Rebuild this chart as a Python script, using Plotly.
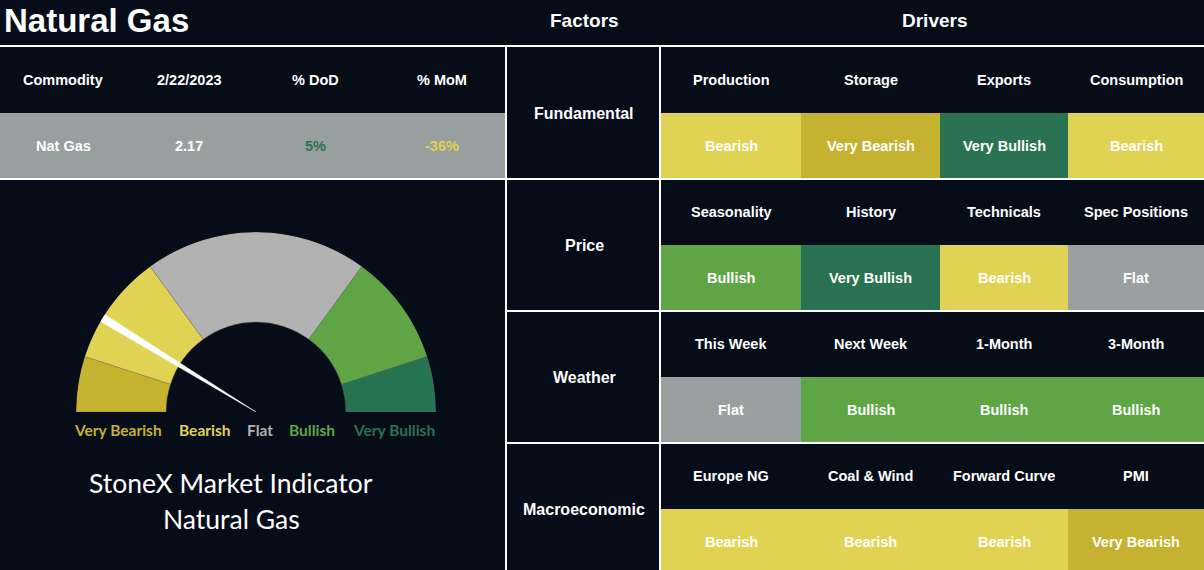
import plotly.graph_objects as go

# ---- data ----
page_title = "Natural Gas"
table_cols = ["Commodity", "2/22/2023", "% DoD", "% MoM"]
table_vals = ["Nat Gas", "2.17", "5%", "-36%"]

factors = ["Fundamental", "Price", "Weather", "Macroeconomic"]
drivers = [
    ["Production", "Storage", "Exports", "Consumption"],
    ["Seasonality", "History", "Technicals", "Spec Positions"],
    ["This Week", "Next Week", "1-Month", "3-Month"],
    ["Europe NG", "Coal & Wind", "Forward Curve", "PMI"],
]
signals = [
    ["Bearish", "Very Bearish", "Very Bullish", "Bearish"],
    ["Bullish", "Very Bullish", "Bearish", "Flat"],
    ["Flat", "Bullish", "Bullish", "Bullish"],
    ["Bearish", "Bearish", "Bearish", "Very Bearish"],
]

levels = ["Very Bearish", "Bearish", "Flat", "Bullish", "Very Bullish"]
level_span = [18, 36, 72, 36, 18]   # share of the gauge for each level (degrees)
needle = 31.5                        # indicator reading, degrees from the bearish end

# ---- styling ----
W, H = 1204, 570
BG = "#060c18"
cell_colors = ["#c5b230", "#e0d354", "#99a09f", "#60a545", "#2a7352"]
gauge_colors = ["#c5b22f", "#e0d354", "#b2b2b2", "#60a545", "#267350"]
label_colors = ["#c5b22f", "#e0d354", "#b2b2b2", "#60a545", "#2a7352"]
val_colors = ["white", "white", "#2a7352", "#e0d354"]
ARIAL = "Liberation Sans, Arial, sans-serif"
LATO = "Lato, sans-serif"
row_h = 66
col_w = [140, 139, 128, 136]
edges = [0]
for w in col_w:
    edges.append(edges[-1] + w)
centers = [(a + b) / 2 for a, b in zip(edges[:-1], edges[1:])]

def px_x(v):
    return v / W

def px_y(v):
    return 1 - v / H

fig = go.Figure()

# drivers grid (coloured signal cells)
z = []
for g in range(len(factors)):
    z.append([None] * 4)
    z.append([levels.index(s) for s in signals[g]])
cs = []
for i, c in enumerate(cell_colors):
    cs += [[i / 5, c], [(i + 1) / 5, c]]
fig.add_trace(go.Heatmap(z=z, x=edges, y=list(range(len(z))), colorscale=cs,
                         zmin=-0.5, zmax=4.5, showscale=False, hoverinfo="skip",
                         xaxis="x", yaxis="y"))

# commodity table (grey value row)
fig.add_trace(go.Heatmap(z=[[None] * 4, [0] * 4], x=list(range(4)), y=[0, 1],
                         colorscale=[[0, "#979f9f"], [1, "#979f9f"]],
                         showscale=False, hoverinfo="skip", xaxis="x2", yaxis="y2"))

# gauge
theta_c = []
acc = 0
for s in level_span:
    theta_c.append(acc + s / 2)
    acc += s
fig.add_trace(go.Barpolar(r=[0.5] * 5, base=[0.5] * 5, theta=theta_c, width=level_span,
                          marker=dict(color=gauge_colors, line=dict(width=0.4, color="#7a7a6a")),
                          hoverinfo="skip", showlegend=False))
fig.add_trace(go.Scatterpolar(r=[0, 1, 1, 0], theta=[needle, needle - 1.3, needle + 1.3, needle],
                              mode="lines", fill="toself", fillcolor="white",
                              line=dict(color="white", width=0.5), hoverinfo="skip",
                              showlegend=False))


def label(text, x, y, size, color="white", family=ARIAL, bold=True, xref="paper",
          yref="paper", xanchor="center"):
    return dict(text=text, x=x, y=y, xref=xref, yref=yref, xanchor=xanchor,
                yanchor="middle", showarrow=False,
                font=dict(family=family, size=size, color=color,
                          weight="bold" if bold else "normal"))


ann = []
# title and section headings
ann.append(label(page_title, px_x(2), px_y(20), 33, xanchor="left"))
ann.append(label("Factors", px_x(584), px_y(20), 19))
ann.append(label("Drivers", px_x(935), px_y(20), 19))

# commodity table text
for i in range(4):
    ann.append(label(table_cols[i], i, 0, 14.5, xref="x2", yref="y2"))
    ann.append(label(table_vals[i], i, 1, 14.5, color=val_colors[i], xref="x2", yref="y2"))

# factors and drivers text
for g, f in enumerate(factors):
    ann.append(label(f, px_x(584), 2 * g + 0.5, 16, yref="y"))
    for c in range(4):
        ann.append(label(drivers[g][c], centers[c], 2 * g, 14.5, xref="x", yref="y"))
        ann.append(label(signals[g][c], centers[c], 2 * g + 1, 14.5, xref="x", yref="y"))

# gauge labels
label_x = [117.5, 205, 259.5, 312, 394]
for i, lv in enumerate(levels):
    ann.append(label("<b>%s</b>" % lv, px_x(label_x[i]), px_y(430), 15.5,
                     color=label_colors[i], family=LATO))
ann.append(label("StoneX Market Indicator", px_x(231), px_y(483), 26.5, family=LATO, bold=False))
ann.append(label("Natural Gas", px_x(231), px_y(519), 26.5, family=LATO, bold=False))

# white separator lines
shapes = []
line = dict(color="white", width=2)
for yy in [46, 179]:
    shapes.append(dict(type="line", xref="paper", yref="paper", x0=0, x1=1,
                       y0=px_y(yy), y1=px_y(yy), line=line))
for yy in [311, 443]:
    shapes.append(dict(type="line", xref="paper", yref="paper", x0=px_x(506), x1=1,
                       y0=px_y(yy), y1=px_y(yy), line=line))
for xx in [506, 660]:
    shapes.append(dict(type="line", xref="paper", yref="paper", x0=px_x(xx), x1=px_x(xx),
                       y0=0, y1=px_y(46), line=line))

hidden = dict(visible=False, fixedrange=True)
fig.update_layout(
    width=W, height=H, margin=dict(l=0, r=0, t=0, b=0),
    paper_bgcolor=BG, plot_bgcolor="rgba(0,0,0,0)", showlegend=False,
    xaxis=dict(domain=[px_x(661), 1], range=[0, edges[-1]], **hidden),
    yaxis=dict(domain=[0, px_y(47)], range=[-0.5 + (H - 47) / row_h, -0.5], **hidden),
    xaxis2=dict(domain=[0, px_x(505)], range=[-0.5, 3.5], **hidden),
    yaxis2=dict(domain=[px_y(179), px_y(47)], range=[1.5, -0.5], **hidden),
    polar=dict(domain=dict(x=[px_x(76), px_x(436)], y=[px_y(412), px_y(232)]),
               sector=[0, 180], hole=0, bgcolor="rgba(0,0,0,0)",
               radialaxis=dict(range=[0, 1], visible=False),
               angularaxis=dict(visible=False, direction="clockwise", rotation=180)),
    annotations=ann, shapes=shapes,
)

fig.write_html("out.html", config={"displayModeBar": False},
               post_script="document.body.style.margin='0';document.body.style.background='%s';" % BG)
